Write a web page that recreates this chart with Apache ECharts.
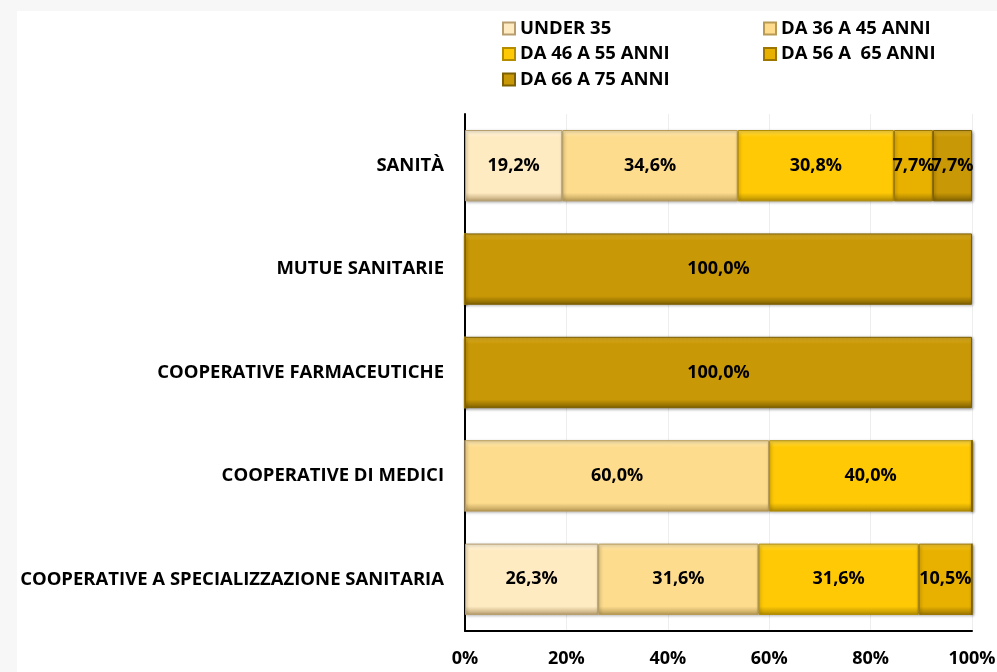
<!DOCTYPE html>
<html>
<head>
<meta charset="utf-8">
<script src="https://cdn.jsdelivr.net/npm/echarts@6/dist/echarts.min.js"></script>
<style>
  html, body { margin: 0; padding: 0; background: #f7f7f7; }
  #table { position: absolute; left: 17px; top: 11px; width: 980px; height: 661px; background: #ffffff; }
</style>
</head>
<body>
<div id="table"></div>
<script>
// categorie (dall'alto in basso)
const categorie = ['SANITÀ', 'MUTUE SANITARIE', 'COOPERATIVE FARMACEUTICHE', 'COOPERATIVE DI MEDICI', 'COOPERATIVE A SPECIALIZZAZIONE SANITARIA'];
const fasce = ['UNDER 35', 'DA 36 A 45 ANNI', 'DA 46 A 55 ANNI', 'DA 56 A  65 ANNI', 'DA 66 A 75 ANNI'];
const under35 = [19.2, 0, 0, 0, 26.3];
const da36a45 = [34.6, 0, 0, 60.0, 31.6];
const da46a55 = [30.8, 0, 0, 40.0, 31.6];
const da56a65 = [7.7, 0, 0, 0, 10.5];
const da66a75 = [7.7, 100.0, 100.0, 0, 0];
const tickLabels = ['0%', '20%', '40%', '60%', '80%', '100%'];

const valori = [under35, da36a45, da46a55, da56a65, da66a75];
const colori = ['#ffebc2', '#fddc8e', '#ffc905', '#e8b100', '#c99806'];
const chiari = ['#fff6de', '#fee9b6', '#ffdc4a', '#f5c833', '#dcb02a'];
const scuri = ['#b89e6e', '#b89a55', '#b38c00', '#9c7600', '#7f6000'];

function bevel(i) {
    return {
        type: 'linear', x: 0, y: 0, x2: 0, y2: 1,
        colorStops: [
            {offset: 0, color: chiari[i]},
            {offset: 0.1, color: colori[i]},
            {offset: 0.88, color: colori[i]},
            {offset: 1, color: scuri[i]}
        ]
    };
}

let legendText = { fontSize: 18.5, fontWeight: 'bold', color: '#000', lineHeight: 19 };

let myChart = echarts.init(document.getElementById('table'));
let option = {
    animation: false,
    textStyle: { fontFamily: 'Open Sans' },
    legend: [{
        data: [fasce[0], fasce[2], fasce[4]],
        orient: 'vertical',
        left: 480,
        top: 3,
        itemWidth: 12,
        itemHeight: 12,
        itemGap: 6.5,
        icon: 'rect',
        textStyle: legendText
    }, {
        data: [fasce[1], fasce[3]],
        orient: 'vertical',
        left: 741,
        top: 3,
        itemWidth: 12,
        itemHeight: 12,
        itemGap: 6.5,
        icon: 'rect',
        textStyle: legendText
    }],
    grid: { left: 448, right: 25, top: 103, bottom: 41, outerBoundsMode: 'none' },
    xAxis: {
        type: 'value',
        min: 0,
        max: 100,
        interval: 20,
        axisLine: { show: true, lineStyle: { color: '#000', width: 2 } },
        axisTick: { show: false },
        splitLine: { show: true, lineStyle: { color: '#eeeeee', width: 1 } },
        axisLabel: {
            margin: 19,
            fontSize: 18,
            fontWeight: 'bold',
            color: '#000',
            formatter: function (v) { return tickLabels[v / 20]; }
        }
    },
    yAxis: {
        type: 'category',
        inverse: true,
        data: categorie,
        axisLine: { show: true, lineStyle: { color: '#000', width: 2 } },
        axisTick: { show: false },
        axisLabel: { margin: 21, fontSize: 18.5, fontWeight: 'bold', color: '#000' }
    },
    series: []
};

for (let i = 0; i < fasce.length; i++) {
    option.series.push({
        name: fasce[i],
        type: 'bar',
        stack: 'totale',
        barWidth: '69%',
        data: valori[i],
        itemStyle: {
            color: bevel(i),
            borderColor: scuri[i],
            borderWidth: 1,
            shadowColor: 'rgba(0,0,0,0.35)',
            shadowBlur: 3,
            shadowOffsetX: 1,
            shadowOffsetY: 1
        },
        label: {
            show: true,
            position: 'inside',
            fontSize: 18,
            fontWeight: 'bold',
            color: '#000',
            formatter: function (p) {
                return p.value > 0 ? p.value.toFixed(1).replace('.', ',') + '%' : '';
            }
        }
    });
}
option.color = colori;

myChart.setOption(option);
window.onresize = function () {
    myChart.resize();
};
</script>
</body>
</html>
